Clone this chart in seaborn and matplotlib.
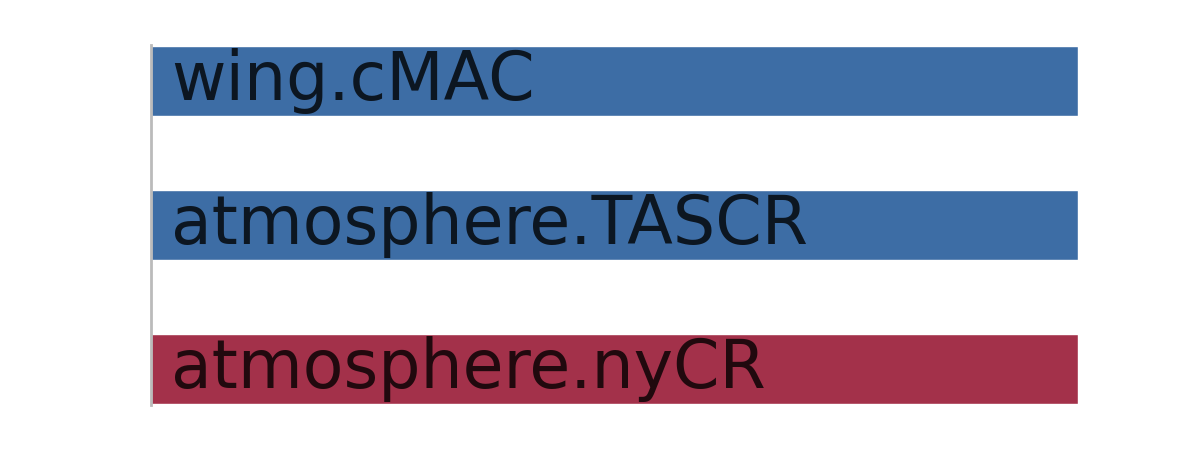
import matplotlib
matplotlib.use("Agg")
import matplotlib.pyplot as plt
import seaborn as sns
import pandas as pd

features = ["wing.cMAC", "atmosphere.TASCR", "atmosphere.nyCR"]
values = [1.0, 1.0, 1.0]
signs = ["pos", "pos", "neg"]

df = pd.DataFrame({"feature": features, "value": values, "sign": signs})
palette = {"pos": "#3d6da5", "neg": "#a3314a"}

sns.set_style("white")
fig = plt.figure(figsize=(12, 4.5), dpi=100)
ax = fig.add_axes([0.1258, 0.1, 0.7725, 0.8])
sns.barplot(data=df, y="feature", x="value", hue="sign", palette=palette,
            orient="h", dodge=False, width=0.48, legend=False, ax=ax,
            saturation=1)
ax.set_xlim(0, 1)
ax.set_ylim(2.25, -0.25)
for i, name in enumerate(features):
    ax.text(0.022, i, name, va="center", ha="left", fontsize=48,
            color="black", alpha=0.8, family="DejaVu Sans")
ax.set_xlabel("")
ax.set_ylabel("")
ax.set_xticks([])
ax.set_yticks([])
for s in ["top", "right", "bottom"]:
    ax.spines[s].set_visible(False)
ax.spines["left"].set_color("#bbbbbb")
ax.spines["left"].set_linewidth(2)
fig.savefig("out.png", dpi=100)
